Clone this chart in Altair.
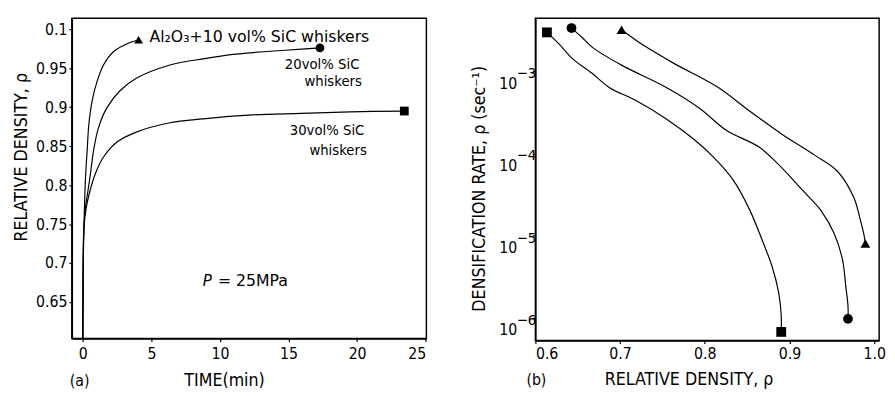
import altair as alt
import pandas as pd

FONT = "DejaVu Sans Condensed"
FONT_WIDE = "DejaVu Sans"

# ---------------- Panel (a): relative density vs time ----------------
a_series = ["10", "20", "30"]
t_10 = [0, 0.03, 0.08, 0.13, 0.20, 0.32, 0.44, 0.68, 1.04, 1.51, 2.23, 3.19, 4.07]
d_10 = [0.604, 0.70, 0.745, 0.777, 0.811, 0.845, 0.878, 0.908, 0.933, 0.954, 0.971, 0.981, 0.9865]
t_20 = [0, 0.03, 0.08, 0.20, 0.32, 0.56, 0.79, 1.15, 1.75, 2.71, 3.90, 6.36, 8.77, 11.15, 14.73, 17.29]
d_20 = [0.604, 0.70, 0.745, 0.773, 0.786, 0.815, 0.845, 0.874, 0.899, 0.921, 0.937, 0.954, 0.962, 0.968, 0.973, 0.976]
t_30 = [0, 0.03, 0.08, 0.27, 0.56, 0.92, 1.51, 2.47, 3.90, 6.36, 8.77, 12.35, 15.93, 19.51, 23.44]
d_30 = [0.604, 0.70, 0.745, 0.773, 0.795, 0.815, 0.836, 0.855, 0.868, 0.880, 0.885, 0.890, 0.892, 0.894, 0.895]
a_shapes = ["triangle-up", "circle", "square"]

a_x_ticks = [0, 5, 10, 15, 20, 25]
a_y_ticks = [0.65, 0.7, 0.75, 0.8, 0.85, 0.9, 0.95, 1.0]

a_main_label = ["Al₂O₃+10 vol% SiC whiskers"]
a_main_t = [4.86]
a_main_d = [0.9899]
a_labels = ["20vol% SiC", "whiskers", "30vol% SiC", "whiskers"]
a_label_t = [14.73, 16.16, 15.09, 16.52]
a_label_d = [0.9550, 0.9330, 0.8710, 0.8445]
p_text = ["P", "= 25MPa"]
p_label_t = [9.08, 9.85]
p_label_d = [0.6763, 0.6763]

# ---------------- Panel (b): densification rate vs relative density ----------------
b_series = ["30", "20", "10"]
x_sq = [0.6136, 0.6278, 0.6437, 0.6669, 0.6881, 0.7171, 0.7554, 0.7867, 0.8099, 0.8330, 0.8524, 0.8678, 0.8794, 0.8872, 0.8902, 0.8902]
r_sq = [2.98e-3, 2.16e-3, 1.43e-3, 9.46e-4, 6.26e-4, 4.50e-4, 2.60e-4, 1.50e-4, 9.12e-5, 4.84e-5, 2.12e-5, 8.80e-6, 4.22e-6, 2.03e-6, 1.065e-6, 6.75e-7]
x_ci = [0.6426, 0.6545, 0.6669, 0.7017, 0.7557, 0.7944, 0.8253, 0.8640, 0.8872, 0.9142, 0.9374, 0.9528, 0.9626, 0.9664, 0.9690, 0.9690]
r_ci = [3.36e-3, 2.62e-3, 1.97e-3, 1.19e-3, 6.26e-4, 3.51e-4, 1.92e-4, 1.20e-4, 7.32e-5, 3.68e-5, 2.01e-5, 1.057e-5, 5.07e-6, 2.43e-6, 1.40e-6, 9.73e-7]
x_tr = [0.7017, 0.7249, 0.7635, 0.8137, 0.8524, 0.8910, 0.9296, 0.9568, 0.9760, 0.9838, 0.9876, 0.9896]
r_tr = [3.20e-3, 2.16e-3, 1.25e-3, 6.57e-4, 3.32e-4, 1.72e-4, 9.56e-5, 6.04e-5, 2.90e-5, 1.525e-5, 1.057e-5, 8.03e-6]
b_shapes = ["square", "circle", "triangle-up"]

b_x_ticks = [0.6, 0.7, 0.8, 0.9, 1.0]
b_y_ticks = [1e-6, 1e-5, 1e-4, 1e-3]
b_y_exponents = ["−6", "−5", "−4", "−3"]

# ---------------- tables ----------------
rows = []
for s, ts, ds in zip(a_series, [t_10, t_20, t_30], [d_10, d_20, d_30]):
    for i, (t, d) in enumerate(zip(ts, ds)):
        rows.append({"series": s, "i": i, "t": t, "d": d})
dfa = pd.DataFrame(rows)
dfa_m = pd.DataFrame({
    "t": [t_10[-1], t_20[-1], t_30[-1]],
    "d": [d_10[-1], d_20[-1], d_30[-1]],
    "shape": a_shapes,
})
dfa_main = pd.DataFrame({"t": a_main_t, "d": a_main_d, "text": a_main_label})
dfa_txt = pd.DataFrame({"t": a_label_t, "d": a_label_d, "text": a_labels})
dfa_p = pd.DataFrame({"t": p_label_t[:1], "d": p_label_d[:1], "text": p_text[:1]})
dfa_mpa = pd.DataFrame({"t": p_label_t[1:], "d": p_label_d[1:], "text": p_text[1:]})

rows = []
for s, xs, rs in zip(b_series, [x_sq, x_ci, x_tr], [r_sq, r_ci, r_tr]):
    for i, (x, r) in enumerate(zip(xs, rs)):
        rows.append({"series": s, "i": i, "x": x, "r": r})
dfb = pd.DataFrame(rows)
dfb_m = pd.DataFrame({
    "x": [x_sq[0], x_sq[-1], x_ci[0], x_ci[-1], x_tr[0], x_tr[-1]],
    "r": [r_sq[0], r_sq[-1], r_ci[0], r_ci[-1], r_tr[0], r_tr[-1]],
    "shape": [b_shapes[0], b_shapes[0], b_shapes[1], b_shapes[1], b_shapes[2], b_shapes[2]],
})
dfb_exp = pd.DataFrame({"x": [0.6] * 4, "r": b_y_ticks, "text": b_y_exponents})

# ---------------- panel (a) ----------------
xa = alt.X("t:Q", scale=alt.Scale(domain=[-0.8, 25.05], nice=False, zero=False),
           axis=alt.Axis(values=a_x_ticks, title="TIME(min)", titleX=155, titleY=43,
                         titleBaseline="middle", titleAlign="center", labelPadding=4))
ya = alt.Y("d:Q", scale=alt.Scale(domain=[0.6033, 1.0139], nice=False, zero=False),
           axis=alt.Axis(values=a_y_ticks, title="RELATIVE DENSITY, ρ",
                         labelExpr="datum.value >= 0.999 ? '0.1' : format(datum.value, '.2~f')",
                         titleX=-51, titleY=141, titleBaseline="middle", titleAlign="center",
                         labelPadding=2))

lines_a = alt.Chart(dfa).mark_line(color="black", strokeWidth=1.2, interpolate="catmull-rom").encode(
    x=xa, y=ya, detail="series:N", order="i:Q")
marks_a = alt.Chart(dfa_m).mark_point(filled=True, color="black", opacity=1, size=80).encode(
    x="t:Q", y="d:Q", shape=alt.Shape("shape:N", scale=None))
main_a = alt.Chart(dfa_main).mark_text(align="left", baseline="middle", font=FONT_WIDE, fontSize=16, color="black").encode(
    x="t:Q", y="d:Q", text="text:N")
text_a = alt.Chart(dfa_txt).mark_text(align="left", baseline="middle", font=FONT, fontSize=15, color="black").encode(
    x="t:Q", y="d:Q", text="text:N")
p_a = alt.Chart(dfa_p).mark_text(align="center", baseline="middle", font=FONT, fontSize=17, fontStyle="italic", color="black").encode(
    x="t:Q", y="d:Q", text="text:N")
mpa_a = alt.Chart(dfa_mpa).mark_text(align="left", baseline="middle", font=FONT_WIDE, fontSize=16, color="black").encode(
    x="t:Q", y="d:Q", text="text:N")
tag_a = alt.Chart(pd.DataFrame({"text": ["(a)"]})).mark_text(font=FONT, fontSize=16, color="black", baseline="middle").encode(
    x=alt.value(8), y=alt.value(369), text="text:N")

panel_a = alt.layer(lines_a, marks_a, main_a, text_a, p_a, mpa_a, tag_a).properties(width=361, height=326)

# ---------------- panel (b) ----------------
xb = alt.X("x:Q", scale=alt.Scale(domain=[0.6, 1.0058], nice=False, zero=False),
           axis=alt.Axis(values=b_x_ticks, format=".1f", title="RELATIVE DENSITY, ρ", titleX=156, titleY=40,
                         titleBaseline="middle", titleAlign="center", labelPadding=2))
yb = alt.Y("r:Q", scale=alt.Scale(type="log", domain=[5.31e-7, 4.418e-3], nice=False),
           axis=alt.Axis(values=b_y_ticks, title="DENSIFICATION RATE, ρ (sec⁻¹)",
                         labelExpr="'10'",
                         labelOffset=12, labelPadding=16,
                         titleX=-57, titleY=173, titleBaseline="middle", titleAlign="center"))

lines_b = alt.Chart(dfb).mark_line(color="black", strokeWidth=1.2, interpolate="catmull-rom").encode(
    x=xb, y=yb, detail="series:N", order="i:Q")
marks_b = alt.Chart(dfb_m).mark_point(filled=True, color="black", opacity=1, size=100).encode(
    x="x:Q", y="r:Q", shape=alt.Shape("shape:N", scale=None))
exp_b = alt.Chart(dfb_exp).mark_text(align="left", baseline="middle", font=FONT, fontSize=15, color="black",
                                     dx=-19, dy=2).encode(x="x:Q", y="r:Q", text="text:N")
tag_b = alt.Chart(pd.DataFrame({"text": ["(b)"]})).mark_text(font=FONT, fontSize=16, color="black", baseline="middle").encode(
    x=alt.value(1), y=alt.value(368), text="text:N")

panel_b = alt.layer(lines_b, marks_b, exp_b, tag_b).properties(width=350, height=328)

chart = alt.hconcat(panel_a, panel_b, spacing=43).properties(
    padding={"left": 4, "top": 6, "right": 0, "bottom": 0},
    background="white",
).configure_view(
    stroke="black", strokeWidth=1.5
).configure_axis(
    grid=False, domainColor="black", domainWidth=1.5, tickColor="black", tickSize=3, tickWidth=1.2,
    labelFont=FONT, labelFontSize=16, labelColor="black", labelFontWeight="normal",
    titleFont=FONT, titleFontSize=18, titleColor="black", titleFontWeight="normal",
)

chart.save("out.html", embed_options={"renderer": "svg", "actions": False})
